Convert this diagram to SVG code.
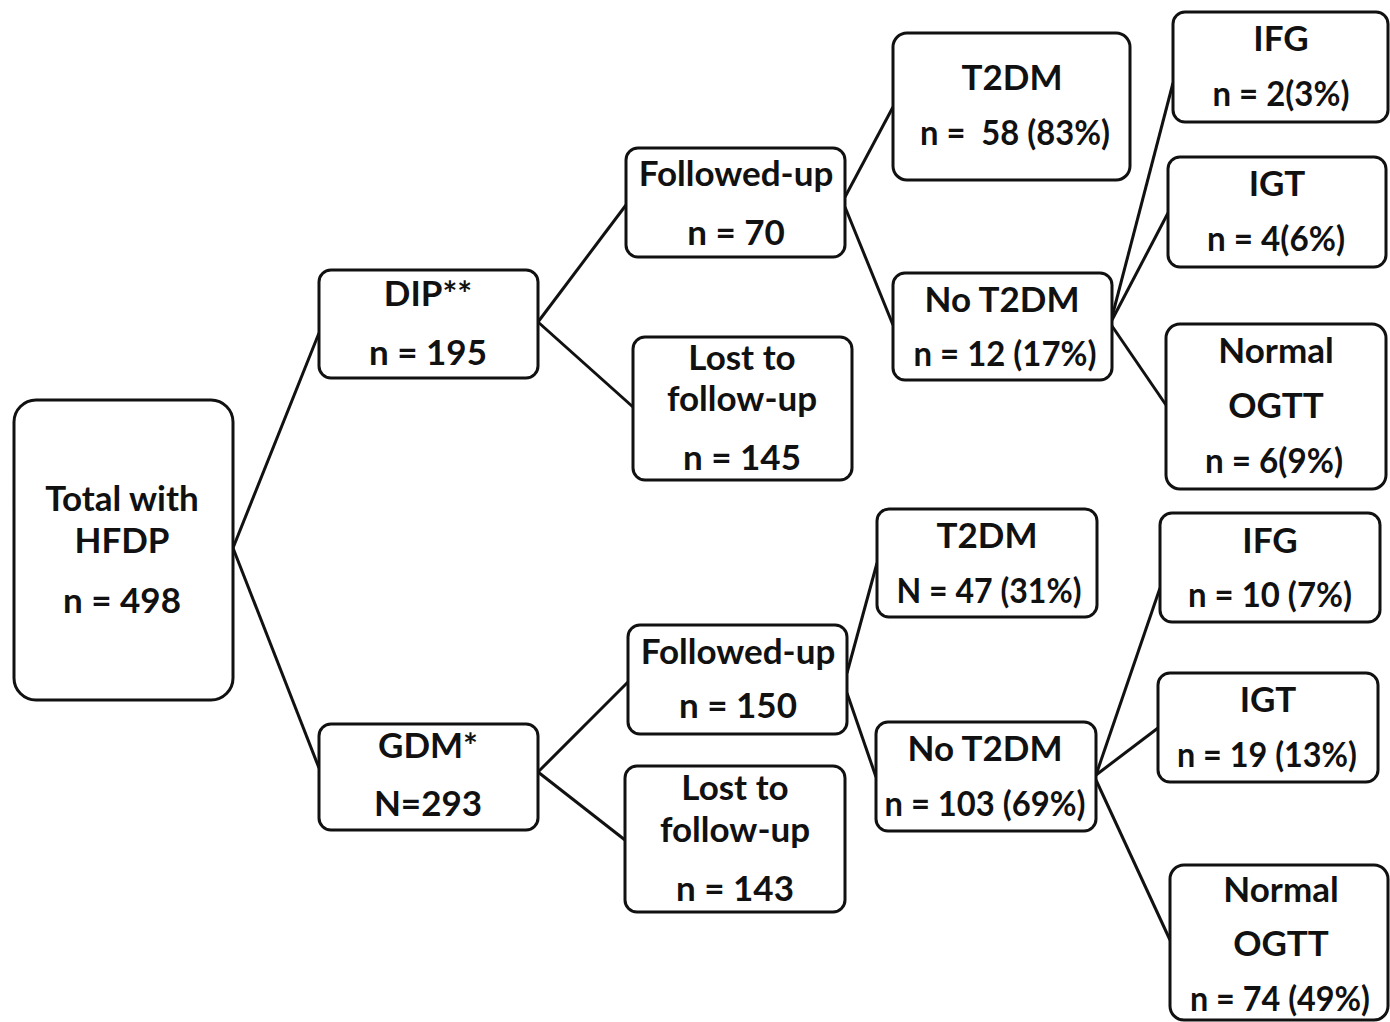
<svg xmlns="http://www.w3.org/2000/svg" width="1390" height="1022" viewBox="0 0 1390 1022">
<style>
.b{fill:#fff;stroke:#111;stroke-width:3}
text{font-family:Lato,"Open Sans","Liberation Sans",sans-serif;font-weight:bold;font-size:35px;fill:#111;text-anchor:middle;white-space:pre}
.c line{stroke:#111;stroke-width:3}
</style>
<rect width="1390" height="1022" fill="#fff"/>
<g class="c" id="connectors">
<line x1="233" y1="548" x2="319" y2="333"/>
<line x1="233" y1="548" x2="319" y2="768"/>
<line x1="538" y1="322" x2="626" y2="205"/>
<line x1="538" y1="322" x2="633" y2="407"/>
<line x1="845" y1="197" x2="893" y2="107"/>
<line x1="845" y1="207" x2="893" y2="325"/>
<line x1="1112" y1="317" x2="1173" y2="83"/>
<line x1="1112" y1="320" x2="1168" y2="213"/>
<line x1="1112" y1="326" x2="1166" y2="405"/>
<line x1="538" y1="772" x2="628" y2="682"/>
<line x1="538" y1="772" x2="625" y2="840"/>
<line x1="847" y1="673" x2="877" y2="563"/>
<line x1="847" y1="693" x2="876" y2="777"/>
<line x1="1096" y1="775" x2="1160" y2="588"/>
<line x1="1096" y1="775" x2="1158" y2="728"/>
<line x1="1096" y1="780" x2="1170" y2="940"/>
</g>
<g id="total"><rect class="b" x="14" y="400" width="219" height="300" rx="22"/><text x="122" y="511">Total with</text><text x="122" y="553">HFDP</text><text x="122" y="613">n = 498</text></g>
<g id="dip"><rect class="b" x="319" y="270" width="219" height="108" rx="12"/><text x="428" y="306">DIP**</text><text x="428" y="365">n = 195</text></g>
<g id="gdm"><rect class="b" x="319" y="724" width="219" height="106" rx="12"/><text x="428" y="758">GDM*</text><text x="428" y="816">N=293</text></g>
<g id="fu1"><rect class="b" x="626" y="148" width="219" height="109" rx="12"/><text x="736" y="186">Followed-up</text><text x="736" y="245">n = 70</text></g>
<g id="lost1"><rect class="b" x="633" y="337" width="219" height="143" rx="12"/><text x="742" y="370">Lost to</text><text x="742" y="411">follow-up</text><text x="742" y="470">n = 145</text></g>
<g id="t2dm1"><rect class="b" x="893" y="33" width="237" height="147" rx="14"/><text x="1012" y="90">T2DM</text><text x="1015" y="145" textLength="190" lengthAdjust="spacingAndGlyphs">n =  58 (83%)</text></g>
<g id="not2dm1"><rect class="b" x="893" y="273" width="219" height="107" rx="12"/><text x="1002" y="312">No T2DM</text><text x="1005" y="366" textLength="183" lengthAdjust="spacingAndGlyphs">n = 12 (17%)</text></g>
<g id="ifg1"><rect class="b" x="1173" y="12" width="215" height="110" rx="12"/><text x="1281" y="51">IFG</text><text x="1281" y="106" textLength="137" lengthAdjust="spacingAndGlyphs">n = 2(3%)</text></g>
<g id="igt1"><rect class="b" x="1168" y="157" width="218" height="110" rx="12"/><text x="1277" y="196">IGT</text><text x="1276" y="251" textLength="138" lengthAdjust="spacingAndGlyphs">n = 4(6%)</text></g>
<g id="norm1"><rect class="b" x="1166" y="324" width="220" height="165" rx="14"/><text x="1276" y="363">Normal</text><text x="1276" y="418">OGTT</text><text x="1274" y="473" textLength="138" lengthAdjust="spacingAndGlyphs">n = 6(9%)</text></g>
<g id="t2dm2"><rect class="b" x="877" y="509" width="220" height="108" rx="12"/><text x="987" y="548">T2DM</text><text x="989" y="603" textLength="185" lengthAdjust="spacingAndGlyphs">N = 47 (31%)</text></g>
<g id="fu2"><rect class="b" x="628" y="625" width="219" height="109" rx="12"/><text x="738" y="664">Followed-up</text><text x="738" y="718">n = 150</text></g>
<g id="not2dm2"><rect class="b" x="876" y="722" width="220" height="109" rx="12"/><text x="985" y="761">No T2DM</text><text x="985" y="816" textLength="201" lengthAdjust="spacingAndGlyphs">n = 103 (69%)</text></g>
<g id="lost2"><rect class="b" x="625" y="766" width="220" height="146" rx="12"/><text x="735" y="800">Lost to</text><text x="735" y="842">follow-up</text><text x="735" y="901">n = 143</text></g>
<g id="ifg2"><rect class="b" x="1160" y="513" width="220" height="109" rx="12"/><text x="1270" y="553">IFG</text><text x="1270" y="607" textLength="164" lengthAdjust="spacingAndGlyphs">n = 10 (7%)</text></g>
<g id="igt2"><rect class="b" x="1158" y="673" width="220" height="109" rx="12"/><text x="1268" y="712">IGT</text><text x="1267" y="767" textLength="180" lengthAdjust="spacingAndGlyphs">n = 19 (13%)</text></g>
<g id="norm2"><rect class="b" x="1170" y="865" width="218" height="155" rx="14"/><text x="1281" y="902">Normal</text><text x="1281" y="956">OGTT</text><text x="1280" y="1011" textLength="180" lengthAdjust="spacingAndGlyphs">n = 74 (49%)</text></g>
</svg>
